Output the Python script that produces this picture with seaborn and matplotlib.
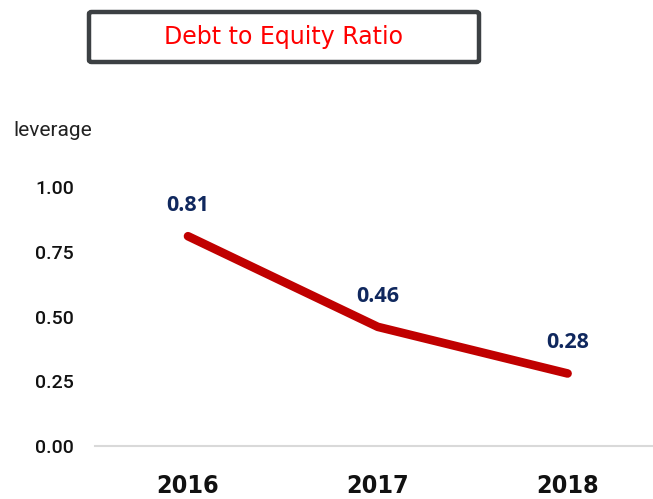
import matplotlib
matplotlib.use("Agg")
import matplotlib.pyplot as plt
from matplotlib.patches import FancyBboxPatch
import pandas as pd
import seaborn as sns

years = ["2016", "2017", "2018"]
ratio = [0.81, 0.46, 0.28]
y_ticks = [0.0, 0.25, 0.5, 0.75, 1.0]

df = pd.DataFrame({"year": years, "ratio": ratio})

sns.set_style("white")
plt.rcParams["font.family"] = ["DejaVu Sans"]

fig = plt.figure(figsize=(6.53, 4.99), dpi=100)
ax = fig.add_axes([95 / 653, 53 / 499, 558 / 653, 259 / 499])

sns.lineplot(data=df, x="year", y="ratio", ax=ax, color="#c00000",
             linewidth=6.2, solid_capstyle="round", solid_joinstyle="round")

ax.set_xlim(-0.49, 2.45)
ax.set_ylim(0, 1.0)
ax.set_yticks(y_ticks)
ax.set_yticklabels(["{:.2f}".format(v) for v in y_ticks],
                   fontfamily="Roboto", fontweight="medium", fontsize=14,
                   color="#111111")
ax.set_xticks(range(len(years)))
ax.set_xticklabels(years, fontfamily="DejaVu Sans", fontstretch="condensed",
                   fontweight="bold", fontsize=18, color="#111111")
ax.tick_params(axis="y", length=0, pad=15)
ax.tick_params(axis="x", length=0, pad=20)
ax.set_xlabel("")
ax.set_ylabel("")

for s in ["top", "right", "left"]:
    ax.spines[s].set_visible(False)
ax.spines["bottom"].set_color("#d9d9d9")
ax.spines["bottom"].set_linewidth(1.5)

for i, v in enumerate(ratio):
    ax.annotate("{:.2f}".format(v), (i, v), xytext=(0, 22), textcoords="offset points",
                ha="center", va="center", color="#10285e", fontsize=15.5,
                fontweight="bold", fontfamily="Open Sans", annotation_clip=False)

fig.text(13 / 653, 1 - 131 / 499, "leverage", fontfamily="Roboto", fontsize=15,
         ha="left", va="center", color="#222222")

box = FancyBboxPatch((89 / 653, 1 - 62 / 499), 390 / 653, 50 / 499,
                     boxstyle="round,pad=0,rounding_size=0.004",
                     transform=fig.transFigure, facecolor="white",
                     edgecolor="#3c4043", linewidth=3.2)
fig.patches.append(box)
fig.text(284 / 653, 1 - 37 / 499, "Debt to Equity Ratio", color="#ff0000",
         fontsize=17, ha="center", va="center", fontfamily="DejaVu Sans")

fig.savefig("out.png", dpi=100)
